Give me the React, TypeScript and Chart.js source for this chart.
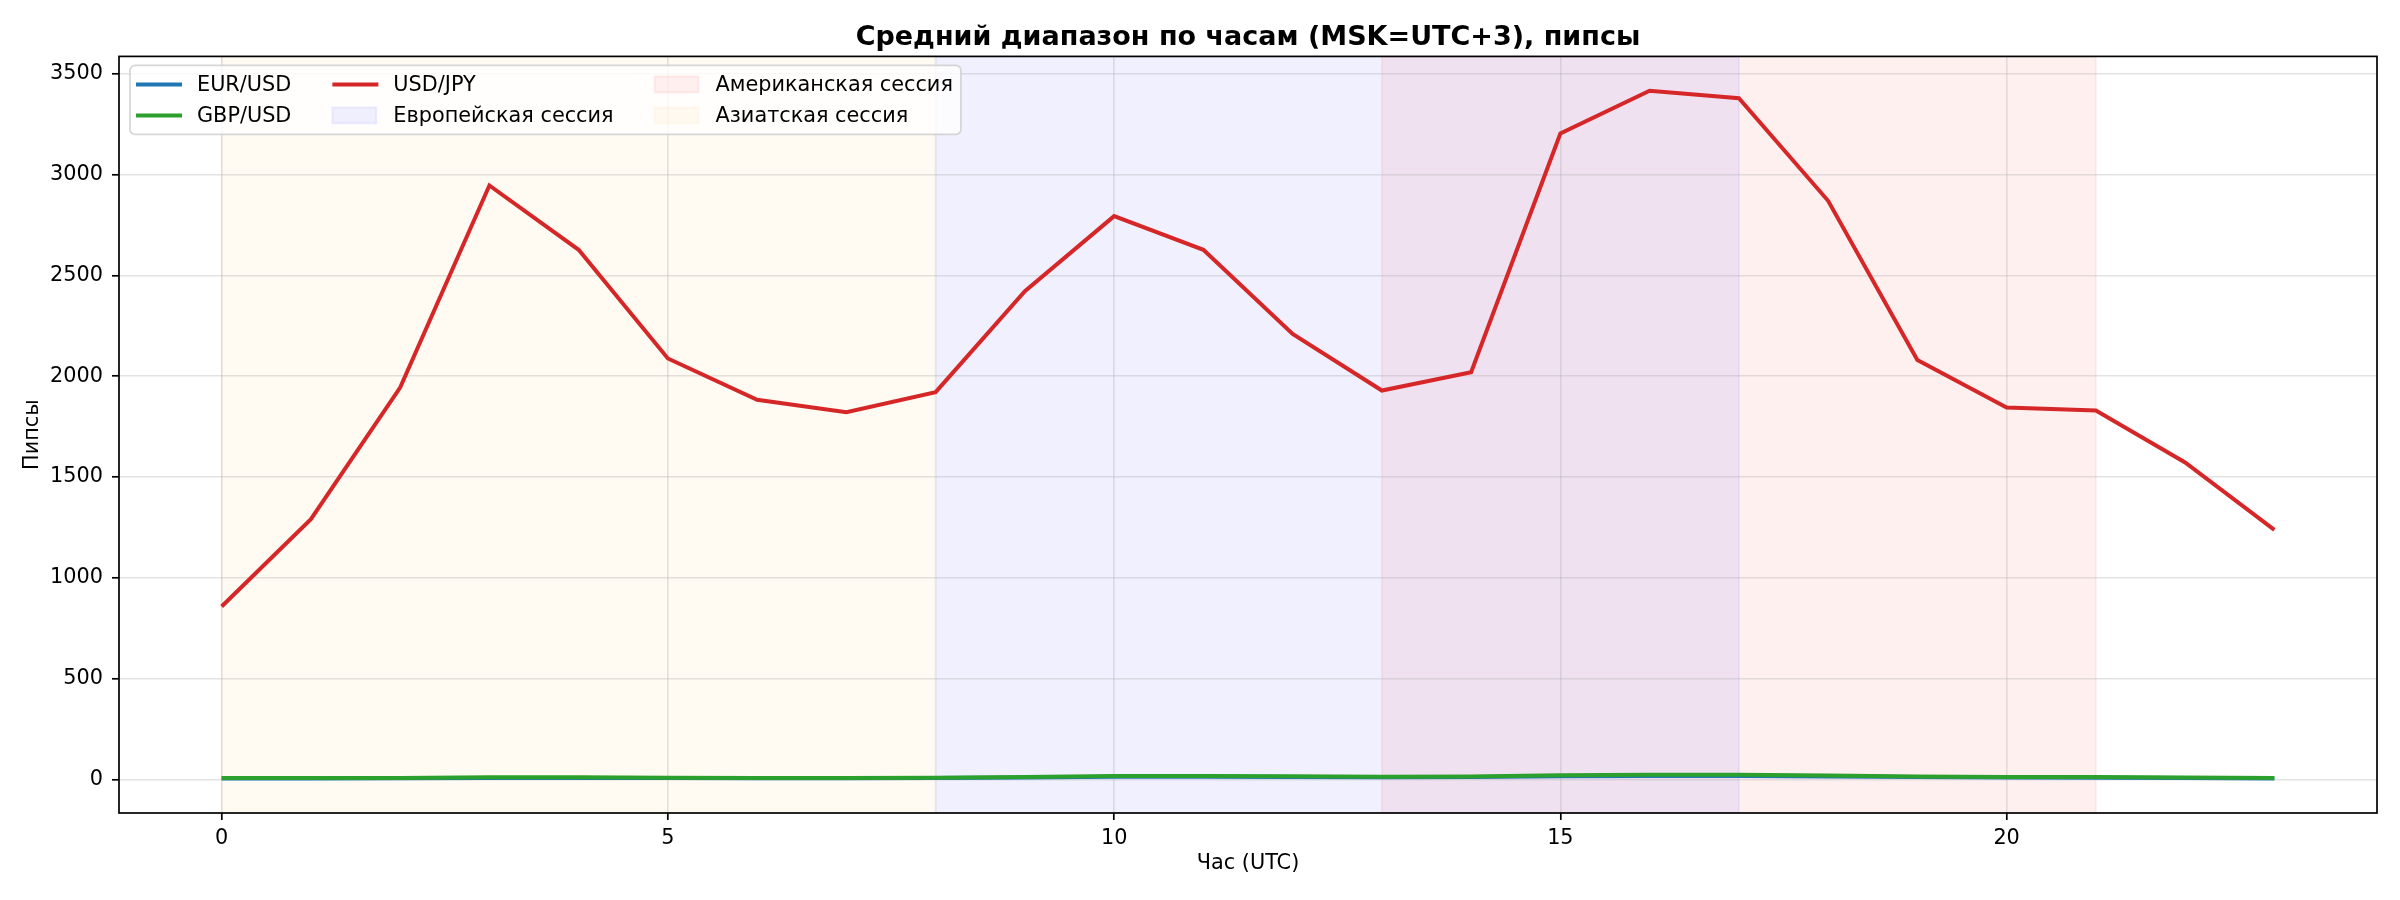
import { useEffect, useRef } from 'react';
import { Chart, registerables } from 'chart.js';

Chart.register(...registerables);

// hourly average range (pips)
const hours = [0, 1, 2, 3, 4, 5, 6, 7, 8, 9, 10, 11, 12, 13, 14, 15, 16, 17, 18, 19, 20, 21, 22, 23];
const eurUsd = [5, 5, 6, 8, 8, 7, 6, 6, 7, 10, 14, 14, 12, 11, 12, 16, 18, 18, 15, 12, 10, 9, 8, 5];
const gbpUsd = [7, 7, 8, 11, 11, 9, 8, 8, 9, 13, 18, 18, 16, 14, 15, 21, 24, 24, 20, 15, 13, 12, 10, 7];
const usdJpy = [
  858, 1291, 1944, 2946, 2627, 2088, 1883, 1822, 1921, 2422, 2794, 2627,
  2210, 1929, 2020, 3204, 3416, 3379, 2870, 2080, 1845, 1830, 1572, 1238,
];

const xTicks = [0, 5, 10, 15, 20];
const yTicks = [0, 500, 1000, 1500, 2000, 2500, 3000, 3500];

// trading sessions (hours UTC), in legend order
const sessionNames = ['Европейская сессия', 'Американская сессия', 'Азиатская сессия'];
const sessionStart = [8, 13, 0];
const sessionEnd = [17, 21, 8];
const sessionRgb = ['0,0,255', '255,0,0', '255,165,0'];
const sessionAlpha = [0.06, 0.06, 0.05];

const FONT = '"DejaVu Sans", "Liberation Sans", sans-serif';
const FS = 20.8;

const sessionSpans = {
  id: 'sessionSpans',
  beforeDraw(chart: any) {
    const { ctx, chartArea: a, scales } = chart;
    ctx.save();
    ctx.fillStyle = '#fff';
    ctx.fillRect(0, 0, chart.width, chart.height);
    ctx.beginPath();
    ctx.rect(a.left, a.top, a.right - a.left, a.bottom - a.top);
    ctx.clip();
    sessionNames.forEach((_, i) => {
      const x0 = scales.x.getPixelForValue(sessionStart[i]);
      const x1 = scales.x.getPixelForValue(sessionEnd[i]);
      const c = `rgba(${sessionRgb[i]},${sessionAlpha[i]})`;
      ctx.fillStyle = c;
      ctx.fillRect(x0, a.top, x1 - x0, a.bottom - a.top);
      ctx.strokeStyle = c;
      ctx.lineWidth = 2;
      ctx.strokeRect(x0, a.top, x1 - x0, a.bottom - a.top);
    });
    ctx.restore();
  },
};

const frameAndLegend = {
  id: 'frameAndLegend',
  afterDraw(chart: any) {
    const { ctx, chartArea: a } = chart;
    ctx.save();

    // axes frame
    ctx.strokeStyle = '#000';
    ctx.lineWidth = 1.7;
    ctx.strokeRect(a.left, a.top, a.right - a.left, a.bottom - a.top);

    // legend: 2 rows, filled column by column
    const items = [
      ...chart.data.datasets.map((d: any) => ({ label: d.label, kind: 'line', color: d.borderColor, alpha: 1 })),
      ...sessionNames.map((n, i) => ({ label: n, kind: 'patch', color: sessionRgb[i], alpha: sessionAlpha[i] })),
    ];
    ctx.font = `${FS}px ${FONT}`;
    const rows = 2;
    const cols = Math.ceil(items.length / rows);
    const handleW = 44;
    const gap = 17;
    const colSpacing = 41;
    const colW: number[] = [];
    for (let c = 0; c < cols; c++) {
      let w = 0;
      for (let r = 0; r < rows; r++) {
        const it = items[c * rows + r];
        if (it) w = Math.max(w, ctx.measureText(it.label).width);
      }
      colW.push(handleW + gap + w);
    }
    const boxL = a.left + 11;
    const boxT = a.top + 9;
    const boxW = 6 + colW.reduce((s, w) => s + w, 0) + colSpacing * (cols - 1) + 8;
    const boxH = 69;

    ctx.beginPath();
    ctx.roundRect(boxL, boxT, boxW, boxH, 5);
    ctx.fillStyle = 'rgba(255,255,255,0.8)';
    ctx.fill();
    ctx.strokeStyle = 'rgba(204,204,204,0.8)';
    ctx.lineWidth = 1.7;
    ctx.stroke();

    let cx = boxL + 6;
    for (let c = 0; c < cols; c++) {
      for (let r = 0; r < rows; r++) {
        const it = items[c * rows + r];
        if (!it) continue;
        const cy = boxT + 19 + r * 31;
        if (it.kind === 'line') {
          ctx.strokeStyle = it.color;
          ctx.lineWidth = 4;
          ctx.lineCap = 'butt';
          ctx.beginPath();
          ctx.moveTo(cx, cy);
          ctx.lineTo(cx + handleW + 2, cy);
          ctx.stroke();
        } else {
          const col = `rgba(${it.color},${it.alpha})`;
          ctx.fillStyle = col;
          ctx.fillRect(cx, cy - 8, handleW, 16);
          ctx.strokeStyle = col;
          ctx.lineWidth = 2;
          ctx.strokeRect(cx, cy - 8, handleW, 16);
        }
        ctx.fillStyle = '#000';
        ctx.textAlign = 'left';
        ctx.textBaseline = 'middle';
        ctx.fillText(it.label, cx + handleW + gap, cy + 1);
      }
      cx += colW[c] + colSpacing;
    }
    ctx.restore();
  },
};

export default function App() {
  const canvasRef = useRef<HTMLCanvasElement>(null);
  const chartRef = useRef<Chart | null>(null);

  useEffect(() => {
    document.body.style.margin = '0';
    if (!canvasRef.current) return;
    if (chartRef.current) chartRef.current.destroy();

    const toPoints = (vals: number[]) => hours.map((h, i) => ({ x: h, y: vals[i] }));
    const gridOpts = {
      color: 'rgba(176,176,176,0.35)',
      lineWidth: 1.6,
      tickColor: '#000',
      tickWidth: 1.7,
      tickLength: 7,
    };

    chartRef.current = new Chart(canvasRef.current, {
      type: 'line',
      data: {
        datasets: [
          { label: 'EUR/USD', data: toPoints(eurUsd), borderColor: '#1f77b4', order: 3 },
          { label: 'GBP/USD', data: toPoints(gbpUsd), borderColor: '#2ca02c', order: 2 },
          { label: 'USD/JPY', data: toPoints(usdJpy), borderColor: '#d62728', order: 1 },
        ].map(d => ({ ...d, borderWidth: 4, pointRadius: 0, tension: 0, fill: false })),
      },
      options: {
        animation: false,
        responsive: false,
        devicePixelRatio: 1,
        layout: { padding: { top: 0, right: 23, bottom: 0, left: 0 } },
        plugins: {
          legend: { display: false },
          tooltip: { enabled: false },
          title: {
            display: true,
            fullSize: false,
            text: 'Средний диапазон по часам (MSK=UTC+3), пипсы',
            color: '#000',
            font: { family: FONT, size: 27, weight: 'bold' },
            padding: { top: 22, bottom: 2 },
          },
        },
        scales: {
          x: {
            type: 'linear',
            min: -1.15,
            max: 24.15,
            afterBuildTicks: (s: any) => { s.ticks = xTicks.map(v => ({ value: v })); },
            afterFit: (s: any) => { s.height = 87; },
            ticks: {
              color: '#000',
              font: { family: FONT, size: FS },
              padding: 6,
              maxRotation: 0,
              callback: (v: any) => String(v),
            },
            grid: gridOpts,
            border: { display: false },
            title: {
              display: true,
              text: 'Час (UTC)',
              color: '#000',
              font: { family: FONT, size: FS },
              padding: 24,
            },
          },
          y: {
            type: 'linear',
            min: -166,
            max: 3586,
            afterBuildTicks: (s: any) => { s.ticks = yTicks.map(v => ({ value: v })); },
            afterFit: (s: any) => { s.width = 119; },
            ticks: {
              color: '#000',
              font: { family: FONT, size: FS },
              padding: 9,
              callback: (v: any) => String(v),
            },
            grid: gridOpts,
            border: { display: false },
            title: {
              display: true,
              text: 'Пипсы',
              color: '#000',
              font: { family: FONT, size: FS },
              padding: 20,
            },
          },
        },
      },
      plugins: [sessionSpans, frameAndLegend],
    } as any);

    return () => {
      if (chartRef.current) {
        chartRef.current.destroy();
        chartRef.current = null;
      }
    };
  }, []);

  return (
    <div style={{ width: 2400, height: 900 }}>
      <canvas ref={canvasRef} width={2400} height={900}></canvas>
    </div>
  );
}
